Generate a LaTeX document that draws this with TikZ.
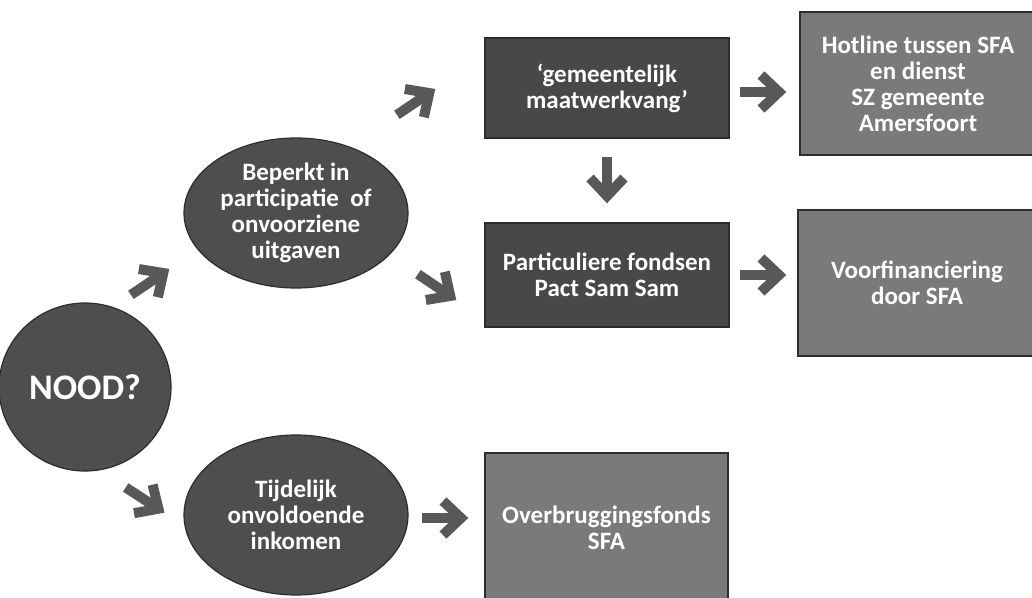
\documentclass[tikz,border=0pt]{standalone}
\usepackage{fontspec}
\setmainfont{Carlito}
\usetikzlibrary{shapes.geometric}
\definecolor{ovalfill}{RGB}{78,78,78}
\definecolor{darkfill}{RGB}{72,72,72}
\definecolor{lightfill}{RGB}{122,122,122}
\definecolor{edgecol}{RGB}{45,45,45}
\definecolor{arrowgray}{RGB}{88,88,88}
\tikzset{
  txt/.style={text=white, font=\fontsize{25}{26}\selectfont\bfseries, align=center, inner sep=0pt},
  oval/.style={ellipse, fill=ovalfill, draw=edgecol, line width=1.2pt, txt},
  darkbox/.style={rectangle, fill=darkfill, draw=edgecol, line width=1.5pt, txt},
  lightbox/.style={rectangle, fill=lightfill, draw=edgecol, line width=1.5pt, txt},
  blockarr/.pic={
    \draw[arrowgray, line width=10pt, line join=miter] (-23,0) -- (12,0);
    \draw[arrowgray, line width=10pt, line join=miter] (-2,-17) -- (16,0) -- (-2,17);
  }
}
\begin{document}
\begin{tikzpicture}[x=1pt, y=-1pt]
\useasboundingbox (0,0) rectangle (1032,597);
\fill[white] (0,0) rectangle (1032,597);

% ovals
\node[oval, minimum width=172pt, minimum height=168pt, font=\fontsize{36}{38}\selectfont\bfseries] (nood) at (85,387) {NOOD?};
\node[oval, minimum width=224pt, minimum height=150pt] (beperkt) at (296,213) {Beperkt in\\participatie\ \ of\\onvoorziene\\uitgaven};
\node[oval, minimum width=224pt, minimum height=160pt] (tijd) at (296,515) {Tijdelijk\\onvoldoende\\inkomen};

% boxes
\node[darkbox, minimum width=244pt, minimum height=100pt] (gem) at (607,88) {‘gemeentelijk\\maatwerkvang’};
\node[darkbox, minimum width=244pt, minimum height=104pt] (part) at (607,275) {Particuliere fondsen\\Pact Sam Sam};
\node[lightbox, minimum width=236pt, minimum height=143pt] (hot) at (918,83.5) {Hotline tussen SFA\\en dienst\\SZ gemeente\\Amersfoort};
\node[lightbox, minimum width=238pt, minimum height=146pt] (voor) at (917,283) {Voorfinanciering\\door SFA};
\node[lightbox, minimum width=243pt, minimum height=150pt] (over) at (606.5,528) {Overbruggingsfonds\\SFA};

% block arrows
\pic[rotate=34]  at (150,282) {blockarr};
\pic[rotate=-33] at (145,500) {blockarr};
\pic[rotate=34]  at (416,102) {blockarr};
\pic[rotate=-34] at (437,287) {blockarr};
\pic             at (763,92)  {blockarr};
\pic[rotate=-90] at (607,180) {blockarr};
\pic             at (763,275) {blockarr};
\pic             at (445,518) {blockarr};
\end{tikzpicture}
\end{document}
